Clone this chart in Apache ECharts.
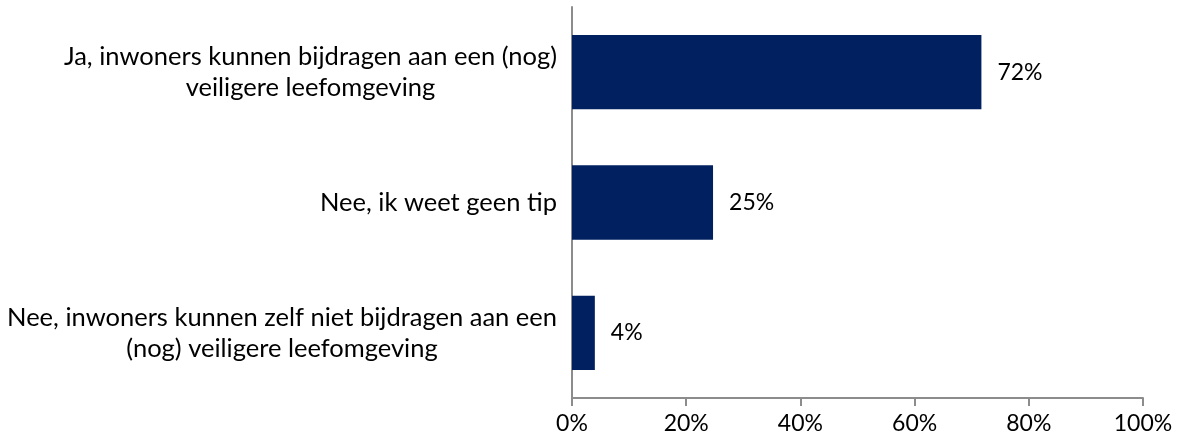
<!DOCTYPE html>
<html>
<head>
<meta charset="utf-8">
<script src="https://cdn.jsdelivr.net/npm/echarts@6/dist/echarts.min.js"></script>
<style>html,body{margin:0;padding:0;background:#fff}#c{width:1180px;height:443px}</style>
</head>
<body>
<div id="c"></div>
<script>
const categories = [
  "Ja, inwoners kunnen bijdragen aan een (nog)\nveiligere leefomgeving",
  "Nee, ik weet geen tip",
  "Nee, inwoners kunnen zelf niet bijdragen aan een\n(nog) veiligere leefomgeving"
];
const values = [71.7, 24.7, 4.0];
const valueLabels = ["72%", "25%", "4%"];
const tickLabels = ["0%", "20%", "40%", "60%", "80%", "100%"];

const FONT = "Lato";
const chart = echarts.init(document.getElementById('c'), null, {renderer: 'canvas'});
chart.setOption({
  animation: false,
  backgroundColor: '#ffffff',
  grid: {left: 572, right: 37, top: 7, bottom: 45, containLabel: false},
  xAxis: {
    type: 'value', min: 0, max: 100, interval: 20,
    axisLine: {show: true, lineStyle: {color: '#8c8c8c', width: 2}},
    axisTick: {show: true, length: 8, lineStyle: {color: '#8c8c8c', width: 2}},
    splitLine: {show: false},
    axisLabel: {
      margin: 14, color: '#000', fontFamily: FONT, fontSize: 23,
      formatter: v => tickLabels[Math.round(v / 20)]
    }
  },
  yAxis: {
    type: 'category', inverse: true, data: categories,
    axisLine: {show: true, lineStyle: {color: '#8c8c8c', width: 2}},
    axisTick: {show: false},
    axisLabel: {
      margin: 15, color: '#000', fontFamily: FONT, fontSize: 25.5, lineHeight: 31,
      formatter: v => v.split('\n').map(l => '{c|' + l + '}').join('\n'),
      rich: {c: {align: 'center', fontFamily: FONT, fontSize: 25.5, lineHeight: 31, color: '#000'}}
    }
  },
  series: [{
    type: 'bar',
    data: values,
    barCategoryGap: '43%',
    itemStyle: {color: '#002060'},
    label: {
      show: true, position: 'right', distance: 16,
      color: '#000', fontFamily: FONT, fontSize: 23,
      formatter: p => valueLabels[p.dataIndex]
    }
  }]
});
</script>
</body>
</html>
